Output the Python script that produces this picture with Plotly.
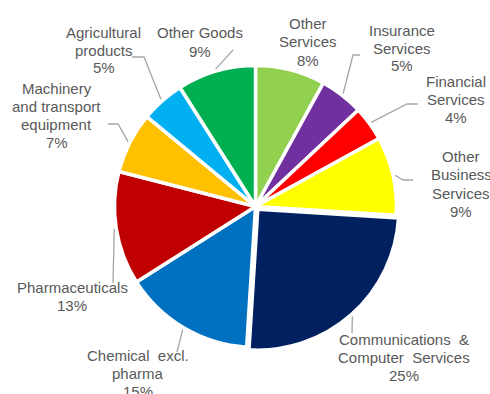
import math
import plotly.graph_objects as go

# Trade composition by category (share of total, %), clockwise from 12 o'clock
categories = [
    "Other Services",
    "Insurance Services",
    "Financial Services",
    "Other Business Services",
    "Communications & Computer Services",
    "Chemical excl. pharma",
    "Pharmaceuticals",
    "Machinery and transport equipment",
    "Agricultural products",
    "Other Goods",
]
shares = [8, 5, 4, 9, 25, 15, 13, 7, 5, 9]

# How each category name is broken over lines in its label
label_lines = [
    ["Other", "Services"],
    ["Insurance", "Services"],
    ["Financial", "Services"],
    ["Other", "Business", "Services"],
    ["Communications\u00a0\u00a0&", "Computer\u00a0 Services"],
    ["Chemical\u00a0 excl.", "pharma"],
    ["Pharmaceuticals"],
    ["Machinery", "and transport", "equipment"],
    ["Agricultural", "products"],
    ["Other Goods"],
]

colors = ["#92D050", "#7030A0", "#FF0000", "#FFFF00", "#002060",
          "#0070C0", "#C00000", "#FFC000", "#00B0F0", "#00B050"]
pulls = [0, 0, 0, 0, 0.025, 0, 0, 0, 0, 0]

# ---- layout (pixels) ----
W, H = 490, 394
CX, CY = 255.5, 206.5          # pie centre
R = 141.0                      # pie radius
TEXT = "#595959"
LEAD = "#A6A6A6"
LINE_H = 18                    # label line spacing

# label block: centre x, centre y of first line
label_pos = {
    "Other Services": (308, 24),
    "Insurance Services": (402, 30),
    "Financial Services": (456, 81),
    "Other Business Services": (461, 157),
    "Communications & Computer Services": (404, 339),
    "Chemical excl. pharma": (138, 355),
    "Pharmaceuticals": (72, 287),
    "Machinery and transport equipment": (56.5, 88),
    "Agricultural products": (103.5, 32),
    "Other Goods": (200, 33),
}
# leader line points after the slice edge point (elbow, then tail end)
leader_pts = {
    "Insurance Services": [(353, 55), (360, 55)],
    "Financial Services": [(407, 104), (418, 104)],
    "Other Business Services": [(403, 180), (413, 180)],
    "Communications & Computer Services": [(352, 333)],
    "Chemical excl. pharma": [(177, 352)],
    "Pharmaceuticals": [(113, 283)],
    "Machinery and transport equipment": [(118, 124), (108, 124)],
    "Agricultural products": [(144, 57), (132, 57)],
    "Other Goods": [(233, 50)],
}


def px(x):
    return x / W


def py(y):
    return 1 - y / H


max_pull = max(pulls)
half = R * (1 + max_pull)
domain_x = [px(CX - half), px(CX + half)]
domain_y = [py(CY + half), py(CY - half)]

fig = go.Figure(
    go.Pie(
        labels=categories,
        values=shares,
        sort=False,
        direction="clockwise",
        rotation=0,
        pull=pulls,
        marker=dict(colors=colors, line=dict(color="white", width=3.5)),
        textinfo="none",
        hoverinfo="label+percent",
        showlegend=False,
        domain=dict(x=domain_x, y=domain_y),
    )
)

total = sum(shares)
annotations = []
shapes = []
cum = 0.0
for name, val, lines, pull in zip(categories, shares, label_lines, pulls):
    mid = (cum + val / 2) / total * 2 * math.pi
    cum += val
    ux, uy = math.sin(mid), -math.cos(mid)

    # label text: name lines followed by the percentage
    pct = f"{round(val / total * 100)}%"
    lx, ly = label_pos[name]
    for i, t in enumerate(lines + [pct]):
        annotations.append(dict(
            x=px(lx), y=py(ly + i * LINE_H), xref="paper", yref="paper",
            text=t, showarrow=False, xanchor="center", yanchor="middle",
            font=dict(family="Liberation Sans, Arial, sans-serif", size=15, color=TEXT),
        ))

    # leader line from the slice edge to the label
    if name in leader_pts:
        off = pull * R
        ex = CX + (R + 2 + off) * ux
        ey = CY + (R + 2 + off) * uy
        pts = [(ex, ey)] + leader_pts[name]
        path = "M " + " L ".join(f"{px(x):.5f},{py(y):.5f}" for x, y in pts)
        shapes.append(dict(type="path", path=path, xref="paper", yref="paper",
                           line=dict(color=LEAD, width=1.3)))

fig.update_layout(
    width=W, height=H,
    margin=dict(l=0, r=0, t=0, b=0),
    paper_bgcolor="white",
    plot_bgcolor="white",
    annotations=annotations,
    shapes=shapes,
)

fig.write_html("out.html")
